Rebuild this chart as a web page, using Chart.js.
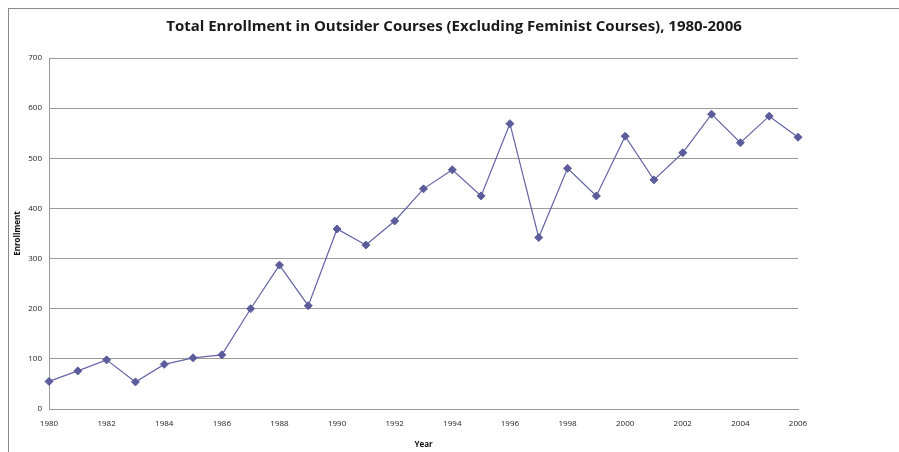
<!DOCTYPE html>
<html>
<head>
<meta charset="utf-8">
<script src="https://cdn.jsdelivr.net/npm/chart.js@4/dist/chart.umd.min.js"></script>
<style>
  html, body { margin: 0; padding: 0; background: #fff; }
  #wrap { position: relative; width: 899px; height: 452px; overflow: hidden; }
  #frame { position: absolute; left: 8px; top: 8px; right: -2px; bottom: -2px; border-left: 1px solid #8a8a8a; border-top: 1px solid #8a8a8a; }
  canvas { position: absolute; left: 0; top: 0; }
</style>
</head>
<body>
<div id="wrap">
  <div id="frame"></div>
  <canvas id="c" width="899" height="452"></canvas>
</div>
<script>
const chartTitle = "Total Enrollment in Outsider Courses (Excluding Feminist Courses), 1980-2006";
const xTitle = "Year";
const yTitle = "Enrollment";
const years = [1980,1981,1982,1983,1984,1985,1986,1987,1988,1989,1990,1991,1992,1993,1994,1995,1996,1997,1998,1999,2000,2001,2002,2003,2004,2005,2006];
const enrollment = [55,76,98,54,89,102,108,200,287,206,359,327,375,439,477,425,569,342,480,425,544,457,511,588,531,584,542];
const yTicks = [0,100,200,300,400,500,600,700];
const xTicks = [1980,1982,1984,1986,1988,1990,1992,1994,1996,1998,2000,2002,2004,2006];

const fontFamily = "'Open Sans', 'Liberation Sans', sans-serif";
const gridColor = '#9a9a9a';
const lineColor = '#6464a6';
const markerColor = '#5c5c9c';

new Chart(document.getElementById('c'), {
  type: 'line',
  data: {
    datasets: [{
      data: years.map((yr, i) => ({ x: yr, y: enrollment[i] })),
      borderColor: lineColor,
      borderWidth: 1.2,
      backgroundColor: markerColor,
      pointStyle: 'rectRot',
      pointRadius: 4,
      pointBackgroundColor: markerColor,
      pointBorderColor: markerColor,
      pointBorderWidth: 1,
      tension: 0,
      fill: false,
      clip: false
    }]
  },
  options: {
    responsive: false,
    animation: false,
    devicePixelRatio: 1,
    layout: { padding: { left: 9, top: 0, right: 0, bottom: 0 } },
    plugins: {
      legend: { display: false },
      tooltip: { enabled: false },
      title: {
        display: true,
        text: chartTitle,
        color: '#1a1a1a',
        font: { family: fontFamily, size: 15, weight: 'bold' },
        padding: { top: 18, bottom: 22 }
      }
    },
    scales: {
      x: {
        type: 'linear',
        min: 1980,
        max: 2006,
        afterBuildTicks: (s) => { s.ticks = xTicks.map(v => ({ value: v })); },
        afterFit: (s) => { s.height = 43; },
        grid: { display: true, color: 'transparent', drawTicks: false },
        border: { display: true, color: gridColor, width: 1 },
        ticks: {
          color: '#222',
          padding: 10,
          maxRotation: 0,
          autoSkip: false,
          font: { family: fontFamily, size: 8 },
          callback: (v) => String(v)
        },
        title: {
          display: true,
          text: xTitle,
          color: '#111',
          font: { family: fontFamily, size: 8, weight: 'bold' },
          padding: { top: 0, bottom: 2 }
        }
      },
      y: {
        type: 'linear',
        position: 'left',
        min: 0,
        max: 700,
        afterBuildTicks: (s) => { s.ticks = yTicks.map(v => ({ value: v })); },
        afterFit: (s) => { s.width = 40; },
        grid: { color: gridColor, lineWidth: 1, drawTicks: false },
        border: { display: true, color: gridColor, width: 1 },
        ticks: {
          color: '#222',
          padding: 7,
          font: { family: fontFamily, size: 8 }
        },
        title: {
          display: true,
          text: yTitle,
          color: '#111',
          font: { family: fontFamily, size: 8, weight: 'bold' },
          padding: { top: 4, bottom: 0 }
        }
      },
      yRight: {
        type: 'linear',
        position: 'right',
        display: true,
        min: 0,
        max: 700,
        afterFit: (s) => { s.width = 101; },
        grid: { display: false, drawTicks: false },
        border: { display: false },
        ticks: { display: false }
      }
    }
  }
});
</script>
</body>
</html>
